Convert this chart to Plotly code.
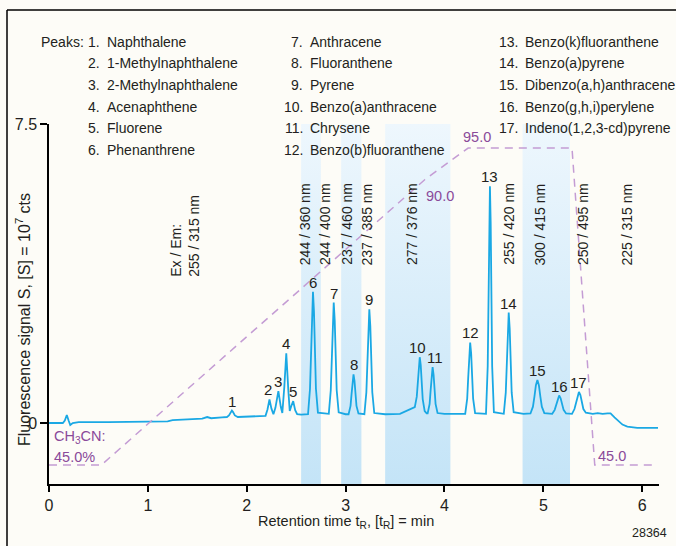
import plotly.graph_objects as go

# ---------------- data ----------------
# chromatogram trace: retention time (min) and fluorescence signal (10^7 cts)
TRACE_T = [0.00, 0.14, 0.16, 0.18, 0.20, 0.215, 0.24, 0.30, 0.60, 1.00, 1.20, 1.25, 1.40, 1.55, 1.60, 1.64, 1.75,
           1.80, 1.82, 1.84, 1.85, 1.86, 1.88, 1.91, 2.00, 2.15,
           2.19, 2.21, 2.23, 2.25, 2.27, 2.29, 2.32, 2.345, 2.36, 2.38, 2.40, 2.42, 2.435, 2.45, 2.47, 2.49, 2.51, 2.55,
           2.62, 2.64, 2.65, 2.66, 2.67, 2.68, 2.69, 2.70, 2.72, 2.80,
           2.83, 2.85, 2.86, 2.87, 2.88, 2.89, 2.90, 2.91, 2.93, 3.00,
           3.03, 3.05, 3.06, 3.07, 3.08, 3.09, 3.10, 3.11, 3.13, 3.18,
           3.19, 3.21, 3.22, 3.23, 3.24, 3.25, 3.26, 3.27, 3.29, 3.40, 3.55, 3.62, 3.68,
           3.70, 3.72, 3.73, 3.74, 3.75, 3.76, 3.77, 3.78, 3.80, 3.82,
           3.83, 3.85, 3.86, 3.87, 3.88, 3.89, 3.90, 3.91, 3.93, 4.00,
           4.21, 4.23, 4.24, 4.25, 4.26, 4.27, 4.28, 4.29, 4.31, 4.38,
           4.42, 4.4375, 4.445, 4.4525, 4.46, 4.4675, 4.475, 4.4825, 4.50, 4.57,
           4.60, 4.62, 4.63, 4.64, 4.65, 4.66, 4.67, 4.68, 4.70, 4.80,
           4.87, 4.895, 4.91, 4.925, 4.94, 4.955, 4.97, 4.985, 5.01, 5.07,
           5.09, 5.115, 5.13, 5.145, 5.16, 5.175, 5.19, 5.205, 5.23, 5.27,
           5.29, 5.315, 5.33, 5.345, 5.36, 5.375, 5.39, 5.405, 5.43, 5.47,
           5.50, 5.55, 5.60, 5.65, 5.68, 5.72, 5.76, 5.80, 5.85, 5.90, 5.95, 6.05, 6.16]
TRACE_S = [0.00, 0.00, 0.06, 0.20, 0.05, -0.05, 0.00, 0.02, 0.02, 0.03, 0.04, 0.07, 0.09, 0.11, 0.15, 0.12, 0.14,
           0.15, 0.19, 0.29, 0.31, 0.28, 0.19, 0.15, 0.16, 0.17,
           0.18, 0.34, 0.59, 0.36, 0.22, 0.38, 0.80, 0.40, 0.25, 0.90, 1.75, 0.85, 0.30, 0.42, 0.55, 0.32, 0.22, 0.21,
           0.22, 0.86, 1.76, 2.80, 3.29, 2.80, 1.76, 0.86, 0.26, 0.23,
           0.23, 0.82, 1.62, 2.57, 3.02, 2.57, 1.62, 0.82, 0.27, 0.22,
           0.22, 0.43, 0.72, 1.06, 1.22, 1.06, 0.72, 0.43, 0.24, 0.22,
           0.22, 0.77, 1.53, 2.43, 2.85, 2.43, 1.53, 0.77, 0.25, 0.22, 0.23, 0.30, 0.38,
           0.40, 0.66, 1.02, 1.45, 1.65, 1.45, 1.02, 0.60, 0.30, 0.24,
           0.24, 0.48, 0.82, 1.21, 1.40, 1.21, 0.82, 0.48, 0.25, 0.23,
           0.23, 0.61, 1.13, 1.74, 2.02, 1.74, 1.13, 0.61, 0.25, 0.23,
           0.23, 1.43, 3.09, 5.03, 5.94, 5.03, 3.09, 1.43, 0.27, 0.23,
           0.23, 0.76, 1.50, 2.36, 2.77, 2.36, 1.50, 0.76, 0.27, 0.23,
           0.24, 0.41, 0.66, 0.95, 1.08, 0.95, 0.66, 0.41, 0.25, 0.23,
           0.23, 0.33, 0.46, 0.62, 0.69, 0.62, 0.46, 0.33, 0.24, 0.23,
           0.23, 0.35, 0.51, 0.70, 0.78, 0.70, 0.51, 0.35, 0.26, 0.24,
           0.23, 0.25, 0.23, 0.24, 0.24, 0.14, 0.04, -0.04, -0.09, -0.11, -0.12, -0.12, -0.12]

# peak numbers and apex positions
PEAK_NUM = [str(i) for i in range(1, 18)]
PEAK_T = [1.85, 2.23, 2.32, 2.40, 2.47, 2.67, 2.88, 3.08, 3.24, 3.75, 3.88, 4.26, 4.46, 4.65, 4.94, 5.16, 5.36]
PEAK_S = [0.31, 0.59, 0.80, 1.75, 0.55, 3.29, 3.02, 1.22, 2.85, 1.65, 1.40, 2.02, 5.94, 2.77, 1.08, 0.69, 0.78]

PEAK_NAMES = ["Naphthalene", "1-Methylnaphthalene", "2-Methylnaphthalene", "Acenaphthene", "Fluorene",
              "Phenanthrene", "Anthracene", "Fluoranthene", "Pyrene", "Benzo(a)anthracene", "Chrysene",
              "Benzo(b)fluoranthene", "Benzo(k)fluoranthene", "Benzo(a)pyrene", "Dibenzo(a,h)anthracene",
              "Benzo(g,h,i)perylene", "Indeno(1,2,3-cd)pyrene"]

# CH3CN gradient program (time, %)
GRAD_T = [0.00, 0.53, 3.80, 4.24, 5.29, 5.52, 6.13]
GRAD_P = [45.0, 45.0, 90.0, 95.0, 95.0, 45.0, 45.0]

# shaded wavelength-program bands (min)
BAND_START = [2.55, 2.955, 3.40, 4.79]
BAND_END = [2.75, 3.16, 4.06, 5.27]

# Ex/Em wavelength switch labels
EXEM_T = [2.59, 2.79, 3.02, 3.22, 3.67, 4.65, 4.97, 5.40, 5.85]
EXEM_LABELS = ["244 / 360 nm", "244 / 400 nm", "237 / 460 nm", "237 / 385 nm", "277 / 376 nm",
               "255 / 420 nm", "300 / 415 nm", "250 / 495 nm", "225 / 315 nm"]
EXEM_FIRST_T = 1.38
EXEM_FIRST = "Ex / Em:<br>255 / 315 nm"

X_TICKS = [0, 1, 2, 3, 4, 5, 6]
Y_TICKS = [0, 7.5]
X_RANGE = [0, 6.17]
Y_RANGE = [-1.53, 7.5]
Y2_RANGE = [42.0, 98.79]

# ---------------- style ----------------
FONT = "Liberation Sans, Arial, sans-serif"
TXT = "#231f20"
PURPLE = "#8a4a9a"
DASH = "#c49cd4"
BLUE = "#1aa8e4"
BG = "#fdfcf7"
FS = 14

W, H = 676, 546
ML, MR, MT, MB = 49, 17, 124, 62
PW, PH = W - ML - MR, H - MT - MB


def px(x):
    return (x - ML) / PW


def py(y):
    return (H - MB - y) / PH


fig = go.Figure()

# bands
for a, b in zip(BAND_START, BAND_END):
    fig.add_trace(go.Scatter(
        x=[a, b, b, a, a], y=[Y_RANGE[0], Y_RANGE[0], Y_RANGE[1], Y_RANGE[1], Y_RANGE[0]],
        mode="lines", line=dict(width=0), fill="toself",
        fillgradient=dict(type="vertical", colorscale=[[0, "#c4e4f7"], [1, "#eef7fd"]]),
        hoverinfo="skip", showlegend=False))

# gradient dashed line
fig.add_trace(go.Scatter(x=GRAD_T, y=GRAD_P, yaxis="y2", mode="lines",
                         line=dict(color=DASH, width=1.5, dash="8px,6px"),
                         hoverinfo="skip", showlegend=False))

# chromatogram
fig.add_trace(go.Scatter(x=TRACE_T, y=TRACE_S, mode="lines",
                         line=dict(color=BLUE, width=1.8),
                         hoverinfo="skip", showlegend=False))

ann = []
# peak labels
for n, t, s in zip(PEAK_NUM, PEAK_T, PEAK_S):
    xs = 0
    if n == "10":
        xs = -2
    elif n == "11":
        xs = 2
    elif n == "2":
        xs = -1
    ann.append(dict(x=t, y=s, xref="x", yref="y", text=n, showarrow=False,
                    xanchor="center", yanchor="bottom", yshift=-1, xshift=xs,
                    font=dict(size=15, color=TXT)))

# Ex/Em labels
for t, lab in zip(EXEM_T, EXEM_LABELS):
    ann.append(dict(x=t, y=3.91, xref="x", yref="y", text=lab, showarrow=False, textangle=-90,
                    xanchor="center", yanchor="bottom", font=dict(size=FS, color=TXT)))
ann.append(dict(x=EXEM_FIRST_T, y=3.63, xref="x", yref="y", text=EXEM_FIRST, showarrow=False,
                textangle=-90, align="left", xanchor="center", yanchor="bottom",
                font=dict(size=FS, color=TXT)))

# gradient labels
GL = 14.5
ann.append(dict(x=px(52), y=py(437), xref="paper", yref="paper", text="CH<sub>3</sub>CN:",
                showarrow=False, xanchor="left", yanchor="middle", font=dict(size=GL, color=PURPLE)))
ann.append(dict(x=px(52), y=py(457), xref="paper", yref="paper", text="45.0%",
                showarrow=False, xanchor="left", yanchor="middle", font=dict(size=GL, color=PURPLE)))
ann.append(dict(x=px(596), y=py(456), xref="paper", yref="paper", text="45.0",
                showarrow=False, xanchor="left", yanchor="middle", font=dict(size=GL, color=PURPLE)))
ann.append(dict(x=px(424), y=py(196), xref="paper", yref="paper", text="90.0",
                showarrow=False, xanchor="left", yanchor="middle", font=dict(size=GL, color=PURPLE)))
ann.append(dict(x=px(461), y=py(137), xref="paper", yref="paper", text="95.0",
                showarrow=False, xanchor="left", yanchor="middle", font=dict(size=GL, color=PURPLE)))

# legend block
ann.append(dict(x=px(86), y=py(42), xref="paper", yref="paper", text="Peaks:", showarrow=False,
                xanchor="right", yanchor="middle", font=dict(size=FS, color=TXT)))
ROW_Y = [42, 63.5, 85, 107, 128.5, 150]
COL_NUM_X = [102, 305, 520]
for i, name in enumerate(PEAK_NAMES):
    col, row = divmod(i, 6)
    yy = ROW_Y[row]
    ann.append(dict(x=px(COL_NUM_X[col]), y=py(yy), xref="paper", yref="paper", text=f"{i + 1}.",
                    showarrow=False, xanchor="right", yanchor="middle", font=dict(size=FS, color=TXT)))
    ann.append(dict(x=px(COL_NUM_X[col] + 3), y=py(yy), xref="paper", yref="paper", text=name,
                    showarrow=False, xanchor="left", yanchor="middle", font=dict(size=FS, color=TXT)))

# axis titles
ann.append(dict(x=px(346), y=py(522), xref="paper", yref="paper",
                text="Retention time t<sub>R</sub>, [t<sub>R</sub>] = min", showarrow=False,
                xanchor="center", yanchor="middle", font=dict(size=14.5, color=TXT)))
ann.append(dict(x=px(23), y=py(320), xref="paper", yref="paper",
                text="Fluorescence signal S, [S] = 10<sup>7</sup> cts", showarrow=False, textangle=-90,
                xanchor="center", yanchor="middle", font=dict(size=16, color=TXT)))
ann.append(dict(x=px(669), y=py(533), xref="paper", yref="paper", text="28364", showarrow=False,
                xanchor="right", yanchor="middle", font=dict(size=12.5, color=TXT)))

shapes = [
    dict(type="line", xref="paper", yref="paper", x0=px(7), y0=py(10), x1=px(690), y1=py(10),
         line=dict(color="black", width=1.5)),
    dict(type="line", xref="paper", yref="paper", x0=px(7), y0=py(10), x1=px(7), y1=py(560),
         line=dict(color="black", width=1.5)),
]

fig.update_layout(
    width=W, height=H,
    margin=dict(l=ML, r=MR, t=MT, b=MB),
    paper_bgcolor=BG, plot_bgcolor=BG,
    font=dict(family=FONT, size=FS, color=TXT),
    showlegend=False,
    annotations=ann, shapes=shapes,
    xaxis=dict(range=X_RANGE, tickvals=X_TICKS, ticks="outside", ticklen=6, tickwidth=1.5,
               tickcolor="black", showline=True, linecolor="black", linewidth=1.5,
               showgrid=False, zeroline=False, tickfont=dict(size=16, color=TXT)),
    yaxis=dict(range=Y_RANGE, tickvals=Y_TICKS, ticktext=["0", "7.5"], ticks="outside", ticklen=7,
               tickwidth=1.5, tickcolor="black", showline=True, linecolor="black", linewidth=1.5,
               showgrid=False, zeroline=False, tickfont=dict(size=16, color=TXT)),
    yaxis2=dict(range=Y2_RANGE, overlaying="y", visible=False),
)

fig.write_html("out.html")
